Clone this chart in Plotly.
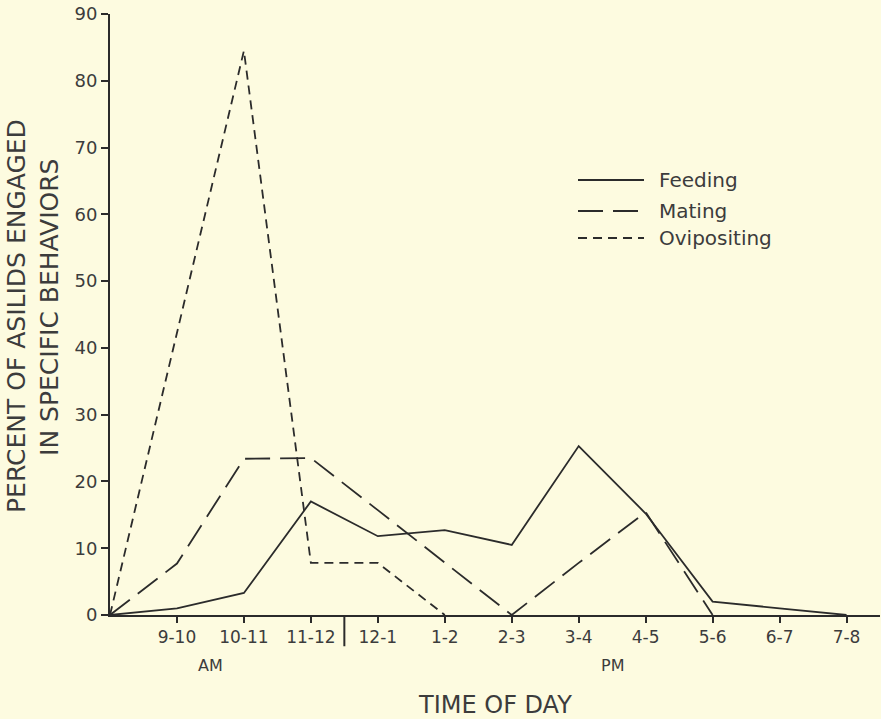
import plotly.graph_objects as go

time_labels = ["", "9-10", "10-11", "11-12", "12-1", "1-2", "2-3", "3-4", "4-5", "5-6", "6-7", "7-8"]
series_names = ["Feeding", "Mating", "Ovipositing"]
feeding = [0, 1.0, 3.3, 17.0, 11.8, 12.7, 10.5, 25.3, 15.2, 2.0, 1.0, 0]
mating = [0, 7.7, 23.4, 23.5, 15.7, 7.8, 0, 7.8, 15.4, 0, None, None]
ovipositing = [0, 42.2, 84.5, 7.8, 7.8, 0, None, None, None, None, None, None]
y_ticks = [0, 10, 20, 30, 40, 50, 60, 70, 80, 90]

xpos = list(range(len(time_labels)))
ink = "#2b2b2b"
txt = "#3c3c3c"
bg = "#fdfbe0"
font = "DejaVu Sans"
dashes = ["solid", "25px,10px", "9px,6px"]

fig = go.Figure()
for name, vals, dash in zip(series_names, [feeding, mating, ovipositing], dashes):
    fig.add_trace(go.Scatter(x=xpos, y=vals, mode="lines", name=name,
                             line=dict(color=ink, width=1.8, dash=dash),
                             cliponaxis=False, showlegend=False))

fig.update_layout(
    width=881, height=719,
    margin=dict(l=110, r=1, t=14, b=104),
    paper_bgcolor=bg, plot_bgcolor=bg,
    font=dict(family=font, color=txt, size=15),
    xaxis=dict(range=[0, 11.5], tickmode="array", tickvals=xpos[1:], ticktext=time_labels[1:],
               showgrid=False, zeroline=False, showline=True, linecolor=ink, linewidth=2,
               ticks="outside", ticklen=6, tickcolor=ink, tickwidth=1.5,
               tickfont=dict(size=17, color=txt)),
    yaxis=dict(range=[0, 90], tickmode="array", tickvals=y_ticks,
               showgrid=False, zeroline=False, showline=True, linecolor=ink, linewidth=2,
               ticks="outside", ticklen=7, tickcolor=ink, tickwidth=1.5,
               tickfont=dict(size=18, color=txt)),
)

# legend drawn as keys (line samples) with labels
legend_rows = [0.7238, 0.6722, 0.6273]
for name, dash, ly in zip(series_names, dashes, legend_rows):
    fig.add_shape(type="line", xref="paper", yref="paper", x0=0.6078, x1=0.6935, y0=ly, y1=ly,
                  line=dict(color=ink, width=1.8, dash=dash))
    fig.add_annotation(x=0.7104, y=ly, xref="paper", yref="paper", text=name, showarrow=False,
                       xanchor="left", yanchor="middle", font=dict(size=20, color=txt))

# axis titles
fig.add_annotation(x=-0.1221, y=0.4975, xref="paper", yref="paper",
                   text="PERCENT OF ASILIDS ENGAGED", textangle=-90, showarrow=False,
                   xanchor="center", yanchor="middle", font=dict(size=25, color=txt))
fig.add_annotation(x=-0.0779, y=0.511, xref="paper", yref="paper",
                   text="IN SPECIFIC BEHAVIORS", textangle=-90, showarrow=False,
                   xanchor="center", yanchor="middle", font=dict(size=25, color=txt))
fig.add_annotation(x=0.5, y=-0.1498, xref="paper", yref="paper", text="TIME OF DAY",
                   showarrow=False, xanchor="center", yanchor="middle",
                   font=dict(size=24, color=txt))

fig.add_shape(type="line", xref="x", yref="paper", x0=3.5, x1=3.5, y0=0, y1=-0.052,
              line=dict(color=ink, width=2))
fig.add_annotation(x=1.5, y=-0.0832, xref="x", yref="paper", text="AM", showarrow=False,
                   font=dict(size=16, color=txt), yanchor="middle")
fig.add_annotation(x=7.5, y=-0.0832, xref="x", yref="paper", text="PM", showarrow=False,
                   font=dict(size=16, color=txt), yanchor="middle")

fig.write_html("out.html", config={"displayModeBar": False},
               post_script="document.body.style.margin='0';document.body.style.background='#fdfbe0';")
